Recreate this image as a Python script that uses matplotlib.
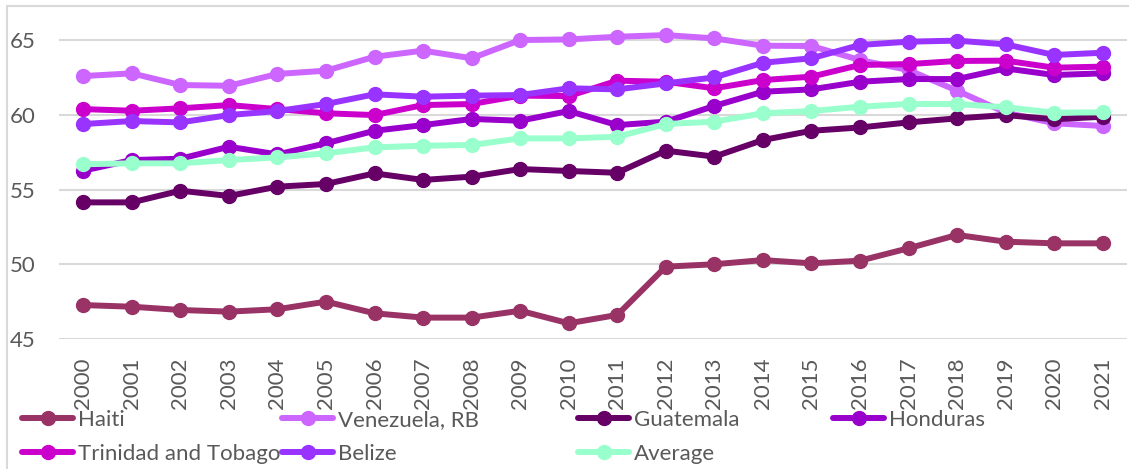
import matplotlib
matplotlib.use("Agg")
import matplotlib.pyplot as plt
from matplotlib.patches import Rectangle

years = [str(y) for y in range(2000, 2022)]

haiti = [47.27, 47.16, 46.94, 46.83, 46.99, 47.50, 46.72, 46.43, 46.43, 46.89, 46.05,
         46.61, 49.84, 50.00, 50.28, 50.06, 50.24, 51.07, 51.96, 51.51, 51.40, 51.40]
venezuela = [62.59, 62.77, 61.99, 61.94, 62.73, 62.95, 63.88, 64.29, 63.78, 65.00, 65.04,
             65.22, 65.33, 65.11, 64.62, 64.60, 63.66, 62.99, 61.61, 60.15, 59.43, 59.25]
guatemala = [54.14, 54.14, 54.92, 54.57, 55.19, 55.37, 56.08, 55.64, 55.86, 56.37, 56.24,
             56.12, 57.60, 57.20, 58.31, 58.93, 59.15, 59.49, 59.76, 59.98, 59.70, 59.87]
honduras = [56.26, 56.97, 57.06, 57.86, 57.35, 58.09, 58.93, 59.31, 59.72, 59.60, 60.25,
            59.31, 59.54, 60.59, 61.54, 61.70, 62.21, 62.39, 62.39, 63.10, 62.66, 62.77]
trinidad = [60.38, 60.27, 60.43, 60.65, 60.38, 60.10, 59.98, 60.65, 60.72, 61.28, 61.25,
            62.28, 62.21, 61.77, 62.32, 62.55, 63.33, 63.39, 63.60, 63.62, 63.15, 63.22]
belize = [59.38, 59.58, 59.49, 59.98, 60.25, 60.72, 61.37, 61.21, 61.28, 61.32, 61.77,
          61.70, 62.10, 62.50, 63.48, 63.78, 64.67, 64.89, 64.96, 64.71, 64.00, 64.15]
average = [56.69, 56.75, 56.75, 56.97, 57.15, 57.42, 57.82, 57.93, 57.98, 58.42, 58.42,
           58.53, 59.38, 59.54, 60.10, 60.25, 60.54, 60.72, 60.72, 60.50, 60.14, 60.16]

series_names = ["Haiti", "Venezuela, RB", "Guatemala", "Honduras",
                "Trinidad and Tobago", "Belize", "Average"]
series_values = [haiti, venezuela, guatemala, honduras, trinidad, belize, average]
series_colors = ["#993366", "#CC66FF", "#660066", "#9900CC",
                 "#CC00CC", "#9933FF", "#99FFCC"]

yticks = [45, 50, 55, 60, 65]

plt.rcParams['font.family'] = ['Lato', 'DejaVu Sans']
text_color = "#595959"
grid_color = "#D9D9D9"

fig = plt.figure(figsize=(11.29, 4.69), dpi=100)
ax = fig.add_axes([59 / 1129, 1 - 339 / 469, 1068 / 1129, 319 / 469])

x = list(range(len(years)))
handles = []
for name, vals, col in zip(series_names, series_values, series_colors):
    h, = ax.plot(x, vals, color=col, lw=4.3, marker='o', markersize=10,
                 label=name, clip_on=False, solid_capstyle='round')
    handles.append(h)

ax.set_xlim(-0.5, len(years) - 0.5)
ax.set_ylim(45, 66.34)
ax.set_yticks(yticks)
ax.set_xticks(x)
ax.set_xticklabels(years, rotation=90)
ax.yaxis.grid(True, color=grid_color, lw=1.5)
ax.set_axisbelow(True)
for s in ax.spines.values():
    s.set_visible(False)
ax.tick_params(axis='both', length=0, labelsize=16, colors=text_color)
ax.tick_params(axis='y', pad=17)
ax.tick_params(axis='x', pad=13)

# outer chart border
fig.patches.append(Rectangle((7 / 1129, -0.01), 1.1, 1 - 6 / 469 + 0.01,
                             transform=fig.transFigure, fill=False,
                             edgecolor=grid_color, lw=1.5))

# legend laid out in four columns, filled row by row
columns = [[0, 4], [1, 5], [2, 6], [3]]
col_x = [22, 282, 578, 833]
for idx, cx in zip(columns, col_x):
    fig.legend([handles[i] for i in idx], [series_names[i] for i in idx],
               loc='upper left', bbox_to_anchor=(cx / 1129, 1 - 410 / 469),
               frameon=False, fontsize=16, handlelength=2.3,
               handletextpad=0.2, labelspacing=0.62, borderpad=0,
               borderaxespad=0, labelcolor=text_color)

fig.savefig("out.png", dpi=100)
